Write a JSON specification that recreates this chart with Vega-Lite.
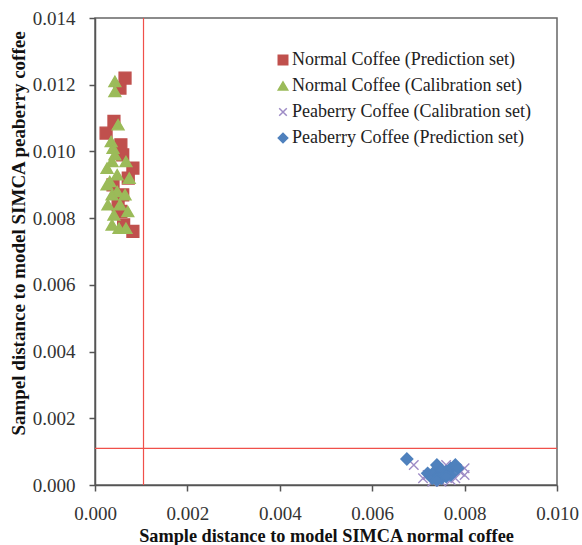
{
  "$schema": "https://vega.github.io/schema/vega-lite/v6.json",
  "width": 462,
  "height": 467,
  "autosize": "none",
  "padding": {"left": 95, "top": 18, "right": 25, "bottom": 60},
  "background": "white",
  "config": {
    "view": {"stroke": "#666666", "strokeWidth": 1.5},
    "font": "Liberation Serif",
    "axis": {
      "grid": false,
      "labelFlush": false,
      "domainColor": "#555555",
      "domainWidth": 1.5,
      "tickColor": "#555555",
      "tickWidth": 1.5,
      "tickSize": 6,
      "labelFont": "Liberation Serif",
      "labelFontSize": 19,
      "labelColor": "#333333",
      "titleFont": "Liberation Serif",
      "titleFontWeight": "bold",
      "titleColor": "#111111"
    },
    "legend": {
      "orient": "none", "legendX": 179, "legendY": 33, "title": null,
      "labelFont": "Liberation Serif", "labelFontSize": 18, "labelColor": "#222222",
      "symbolSize": 90, "rowPadding": 8, "labelOffset": 0, "labelLimit": 400
    }
  },
  "datasets": {
    "pts": [
      {"series": "Normal Coffee (Prediction set)", "x": 0.00065, "y": 0.0122},
      {"series": "Normal Coffee (Prediction set)", "x": 0.00054, "y": 0.0119},
      {"series": "Normal Coffee (Prediction set)", "x": 0.00041, "y": 0.0109},
      {"series": "Normal Coffee (Prediction set)", "x": 0.00024, "y": 0.01055},
      {"series": "Normal Coffee (Prediction set)", "x": 0.00056, "y": 0.0102},
      {"series": "Normal Coffee (Prediction set)", "x": 0.0006, "y": 0.0099},
      {"series": "Normal Coffee (Prediction set)", "x": 0.00082, "y": 0.0095},
      {"series": "Normal Coffee (Prediction set)", "x": 0.00072, "y": 0.0092},
      {"series": "Normal Coffee (Prediction set)", "x": 0.00039, "y": 0.009},
      {"series": "Normal Coffee (Prediction set)", "x": 0.0006, "y": 0.0087},
      {"series": "Normal Coffee (Prediction set)", "x": 0.0005, "y": 0.0084},
      {"series": "Normal Coffee (Prediction set)", "x": 0.00056, "y": 0.0082},
      {"series": "Normal Coffee (Prediction set)", "x": 0.00062, "y": 0.0078},
      {"series": "Normal Coffee (Prediction set)", "x": 0.00082, "y": 0.0076},
      {"series": "Normal Coffee (Calibration set)", "x": 0.00043, "y": 0.0121},
      {"series": "Normal Coffee (Calibration set)", "x": 0.00043, "y": 0.0118},
      {"series": "Normal Coffee (Calibration set)", "x": 0.0005, "y": 0.0108},
      {"series": "Normal Coffee (Calibration set)", "x": 0.00035, "y": 0.0103},
      {"series": "Normal Coffee (Calibration set)", "x": 0.00039, "y": 0.0101},
      {"series": "Normal Coffee (Calibration set)", "x": 0.00043, "y": 0.0099},
      {"series": "Normal Coffee (Calibration set)", "x": 0.00037, "y": 0.0097},
      {"series": "Normal Coffee (Calibration set)", "x": 0.00026, "y": 0.0095},
      {"series": "Normal Coffee (Calibration set)", "x": 0.00067, "y": 0.0097},
      {"series": "Normal Coffee (Calibration set)", "x": 0.00048, "y": 0.0093},
      {"series": "Normal Coffee (Calibration set)", "x": 0.00032, "y": 0.0091},
      {"series": "Normal Coffee (Calibration set)", "x": 0.00074, "y": 0.0092},
      {"series": "Normal Coffee (Calibration set)", "x": 0.00026, "y": 0.009},
      {"series": "Normal Coffee (Calibration set)", "x": 0.00048, "y": 0.0088},
      {"series": "Normal Coffee (Calibration set)", "x": 0.00037, "y": 0.0087},
      {"series": "Normal Coffee (Calibration set)", "x": 0.00065, "y": 0.0087},
      {"series": "Normal Coffee (Calibration set)", "x": 0.00028, "y": 0.0084},
      {"series": "Normal Coffee (Calibration set)", "x": 0.00054, "y": 0.0084},
      {"series": "Normal Coffee (Calibration set)", "x": 0.00041, "y": 0.0081},
      {"series": "Normal Coffee (Calibration set)", "x": 0.00071, "y": 0.0082},
      {"series": "Normal Coffee (Calibration set)", "x": 0.00037, "y": 0.0078},
      {"series": "Normal Coffee (Calibration set)", "x": 0.00052, "y": 0.0077},
      {"series": "Normal Coffee (Calibration set)", "x": 0.00067, "y": 0.0077},
      {"series": "Peaberry Coffee (Calibration set)", "x": 0.0069, "y": 0.0006},
      {"series": "Peaberry Coffee (Calibration set)", "x": 0.0071, "y": 0.0002},
      {"series": "Peaberry Coffee (Calibration set)", "x": 0.0072, "y": 0.0003},
      {"series": "Peaberry Coffee (Calibration set)", "x": 0.0073, "y": 0.0001},
      {"series": "Peaberry Coffee (Calibration set)", "x": 0.0075, "y": 0.0001},
      {"series": "Peaberry Coffee (Calibration set)", "x": 0.0077, "y": 0.00015},
      {"series": "Peaberry Coffee (Calibration set)", "x": 0.0078, "y": 0.0002},
      {"series": "Peaberry Coffee (Calibration set)", "x": 0.0079, "y": 0.0004},
      {"series": "Peaberry Coffee (Calibration set)", "x": 0.008, "y": 0.0005},
      {"series": "Peaberry Coffee (Calibration set)", "x": 0.008, "y": 0.0003},
      {"series": "Peaberry Coffee (Calibration set)", "x": 0.0076, "y": 0.0006},
      {"series": "Peaberry Coffee (Calibration set)", "x": 0.0074, "y": 0.0005},
      {"series": "Peaberry Coffee (Prediction set)", "x": 0.00675, "y": 0.00078},
      {"series": "Peaberry Coffee (Prediction set)", "x": 0.0072, "y": 0.00035},
      {"series": "Peaberry Coffee (Prediction set)", "x": 0.0073, "y": 0.0002},
      {"series": "Peaberry Coffee (Prediction set)", "x": 0.00735, "y": 0.0004},
      {"series": "Peaberry Coffee (Prediction set)", "x": 0.0074, "y": 0.0006},
      {"series": "Peaberry Coffee (Prediction set)", "x": 0.00745, "y": 0.0003},
      {"series": "Peaberry Coffee (Prediction set)", "x": 0.0075, "y": 0.00045},
      {"series": "Peaberry Coffee (Prediction set)", "x": 0.0075, "y": 0.0002},
      {"series": "Peaberry Coffee (Prediction set)", "x": 0.0076, "y": 0.0004},
      {"series": "Peaberry Coffee (Prediction set)", "x": 0.0077, "y": 0.0005},
      {"series": "Peaberry Coffee (Prediction set)", "x": 0.0077, "y": 0.0003},
      {"series": "Peaberry Coffee (Prediction set)", "x": 0.0078, "y": 0.0006},
      {"series": "Peaberry Coffee (Prediction set)", "x": 0.00785, "y": 0.0005},
      {"series": "Peaberry Coffee (Prediction set)", "x": 0.0074, "y": 0.00015},
      {"series": "Peaberry Coffee (Prediction set)", "x": 0.0076, "y": 0.00025}
    ],
    "limits": [{"xlim": 0.00105, "ylim": 0.0011}]
  },
  "layer": [
    {
      "data": {"name": "limits"},
      "mark": {"type": "rule", "color": "#F0504A", "strokeWidth": 1.2},
      "encoding": {"x": {"field": "xlim", "type": "quantitative"}}
    },
    {
      "data": {"name": "limits"},
      "mark": {"type": "rule", "color": "#F0504A", "strokeWidth": 1.2},
      "encoding": {"y": {"field": "ylim", "type": "quantitative"}}
    },
    {
      "data": {"name": "pts"},
      "mark": {"type": "point", "filled": true, "opacity": 1, "strokeWidth": 1.4, "size": 140},
      "encoding": {
        "x": {
          "field": "x", "type": "quantitative",
          "scale": {"domain": [0, 0.01], "nice": false},
          "axis": {"values": [0, 0.002, 0.004, 0.006, 0.008, 0.01], "format": ".3f", "labelFlush": false, "labelPadding": 13, "titlePadding": 4, "titleFontSize": 18.3},
          "title": "Sample distance to model SIMCA normal coffee"
        },
        "y": {
          "field": "y", "type": "quantitative",
          "scale": {"domain": [0, 0.014], "nice": false},
          "axis": {"values": [0, 0.002, 0.004, 0.006, 0.008, 0.01, 0.012, 0.014], "format": ".3f", "labelFlush": false, "labelPadding": 14, "titlePadding": 4, "titleFontSize": 19, "titleY": 215},
          "title": "Sampel distance to model SIMCA peaberry coffee"
        },
        "fill": {
          "field": "series", "type": "nominal",
          "scale": {
            "domain": ["Normal Coffee (Prediction set)", "Normal Coffee (Calibration set)", "Peaberry Coffee (Calibration set)", "Peaberry Coffee (Prediction set)"],
            "range": ["#C0504D", "#9BBB59", "transparent", "#4F81BD"]
          }
        },
        "stroke": {
          "field": "series", "type": "nominal",
          "scale": {
            "domain": ["Normal Coffee (Prediction set)", "Normal Coffee (Calibration set)", "Peaberry Coffee (Calibration set)", "Peaberry Coffee (Prediction set)"],
            "range": ["#C0504D", "#9BBB59", "#9E8CC6", "#4F81BD"]
          }
        },
        "shape": {
          "field": "series", "type": "nominal",
          "scale": {
            "domain": ["Normal Coffee (Prediction set)", "Normal Coffee (Calibration set)", "Peaberry Coffee (Calibration set)", "Peaberry Coffee (Prediction set)"],
            "range": ["square", "triangle-up", "M-0.8,-0.8L0.8,0.8M-0.8,0.8L0.8,-0.8", "diamond"]
          }
        }
      }
    }
  ]
}
